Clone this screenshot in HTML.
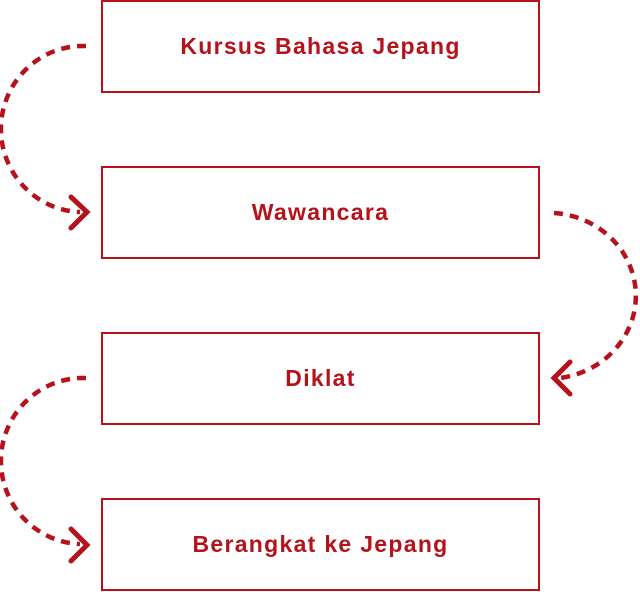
<!DOCTYPE html>
<html><head><style>
html,body{margin:0;padding:0;background:#fff;width:640px;height:592px;overflow:hidden}
.b{position:absolute;left:101px;width:435px;height:89px;border:2px solid #b5121b;display:flex;align-items:center;justify-content:center;font:bold 23px "Liberation Sans",sans-serif;letter-spacing:1.3px;color:#b5121b}
svg{position:absolute;left:0;top:0}
</style></head><body>
<div class="b" style="top:0">Kursus Bahasa Jepang</div>
<div class="b" style="top:166px">Wawancara</div>
<div class="b" style="top:332px">Diklat</div>
<div class="b" style="top:498px">Berangkat ke Jepang</div>
<svg width="640" height="592" fill="none" stroke="#b5121b" stroke-width="4.5">
<g stroke-dasharray="9 7">
<path d="M86,46 A82,83 0 0 0 80,212"/>
<path d="M86,378 A82,83 0 0 0 80,544"/>
<path d="M554,213 A88,83 0 0 1 560,378"/>
</g>
<g stroke-width="5" stroke-linecap="round">
<path d="M71,197 L87,212 L71,228"/>
<path d="M71,529 L87,545 L71,561"/>
<path d="M570,362 L554,378 L570,394"/>
</g>
</svg>
</body></html>
